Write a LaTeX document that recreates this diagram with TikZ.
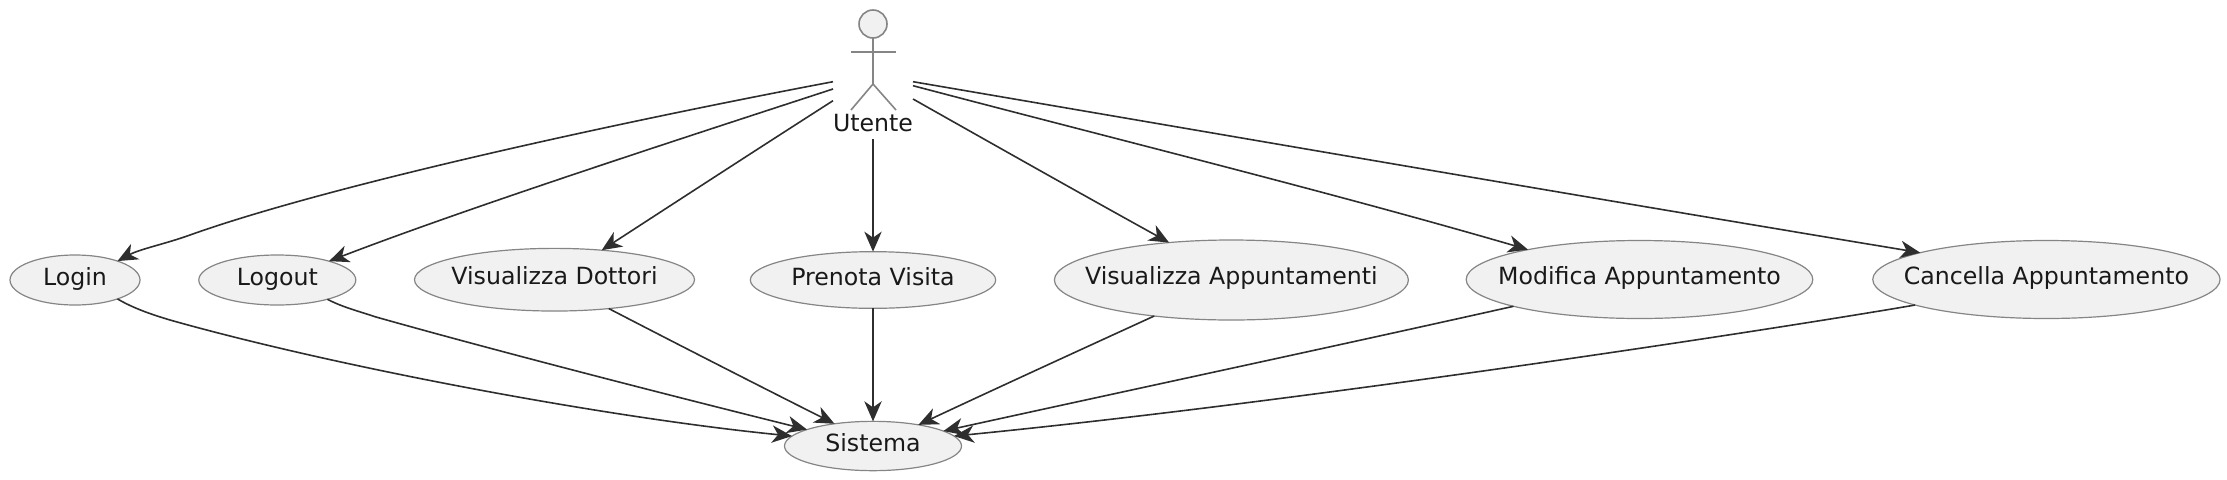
\documentclass[tikz,border=0pt]{standalone}
\usepackage{fontspec}
\setmainfont{DejaVu Sans}
\usetikzlibrary{shapes.geometric,arrows.meta}
\definecolor{ucfill}{HTML}{F1F1F1}
\definecolor{ucline}{HTML}{858585}
\definecolor{edgecol}{HTML}{2E2E2E}
\newcommand{\uclabel}[3]{\makebox[0pt]{\rule[-#1pt]{0pt}{#2pt}#3}}
\tikzset{
  usecase/.style={ellipse,draw=ucline,fill=ucfill,line width=0.9pt,inner sep=0pt,outer sep=0pt,font=\fontsize{17.75}{20}\selectfont,text=black!90},
  actorline/.style={draw=ucline,line width=1.2pt},
  edge/.style={draw=edgecol,line width=1.2pt,-{Stealth[length=15pt,width=13pt,inset=4.5pt]}}
}
\begin{document}
\begin{tikzpicture}[x=0.75pt,y=-0.75pt]
\useasboundingbox (0,0) rectangle (2227,479);
% actor
\node[circle,actorline,fill=ucfill,minimum size=21pt,inner sep=0pt,outer sep=0pt] (head) at (873,24) {};
\coordinate (hip) at (873,84);
\coordinate (armL) at (851,52);
\coordinate (armR) at (896,52);
\coordinate (legL) at (851,110);
\coordinate (legR) at (896,110);
\path[actorline] (head.south) -- (hip);
\path[actorline] (armL) -- (armR);
\path[actorline] (legL) -- (hip) -- (legR);
\node[anchor=base,inner sep=0pt,font=\fontsize{17.75}{20}\selectfont,text=black!90] (utente) at (873,131.7) {Utente};
% use cases
\node[usecase,minimum width=97.5pt,minimum height=37.5pt] (login) at (75,280) {\uclabel{5}{15}{Login}};
\node[usecase,minimum width=117.75pt,minimum height=37.5pt] (logout) at (277.3,280) {\uclabel{5}{15}{Logout}};
\node[usecase,minimum width=210pt,minimum height=47pt] (dottori) at (554.5,279.7) {\uclabel{6.5}{14}{Visualizza Dottori}};
\node[usecase,minimum width=184pt,minimum height=42.5pt] (prenota) at (873,280) {\uclabel{5}{15}{Prenota Visita}};
\node[usecase,minimum width=265.5pt,minimum height=60pt] (visapp) at (1231.4,280) {\uclabel{6.5}{14}{Visualizza Appuntamenti}};
\node[usecase,minimum width=260pt,minimum height=58.5pt] (modapp) at (1639.5,279.5) {\uclabel{6.5}{14}{Modifica Appuntamento}};
\node[usecase,minimum width=260.5pt,minimum height=58.5pt] (canapp) at (2046.4,279.5) {\uclabel{6.5}{14}{Cancella Appuntamento}};
\node[usecase,minimum width=132.75pt,minimum height=37pt] (sistema) at (873,446) {\uclabel{5}{15}{Sistema}};
% edge start points beside the actor
\coordinate (a1) at (833,81.7);
\coordinate (a2) at (833,89);
\coordinate (a3) at (833,100.7);
\coordinate (a4) at (873,139);
\coordinate (a5) at (913,99);
\coordinate (a6) at (913,85.7);
\coordinate (a7) at (913,81.7);
% actor to use cases
\draw[edge] (a1) .. controls (620,122) and (330,185) .. (190,235) .. controls (165,244) and (140,249) .. (login.24.3);
\draw[edge] (a2) .. controls (680,139) and (470,207) .. (logout.20.4);
\draw[edge] (a3) .. controls (756,150) and (679,200) .. (dottori.32.9);
\draw[edge] (a4) -- (prenota.north);
\draw[edge] (a5) .. controls (998,147) and (1083,195) .. (visapp.149.6);
\draw[edge] (a6) .. controls (1119,140) and (1330,192) .. (modapp.165);
\draw[edge] (a7) .. controls (1248,139) and (1584,197) .. (canapp.168.9);
% use cases to Sistema
\draw[edge] (login.-24.9) .. controls (133,308) and (150,314) .. (170,320) .. controls (340,368) and (610,418) .. (sistema.173);
\draw[edge] (logout.-21.3) .. controls (342,307) and (358,311) .. (376,317) .. controls (500,352) and (680,398) .. (sistema.166.8);
\draw[edge] (dottori.-28.9) .. controls (683,347) and (757.5,385) .. (sistema.150.4);
\draw[edge] (prenota.south) -- (sistema.north);
\draw[edge] (visapp.205) .. controls (1075.6,352) and (997,388) .. (sistema.25.7);
\draw[edge] (modapp.192.6) .. controls (1327,348) and (1135,389) .. (sistema.12.9);
\draw[edge] (canapp.191.1) .. controls (1770,330) and (1300,402) .. (sistema.7.4);
\end{tikzpicture}
\end{document}
